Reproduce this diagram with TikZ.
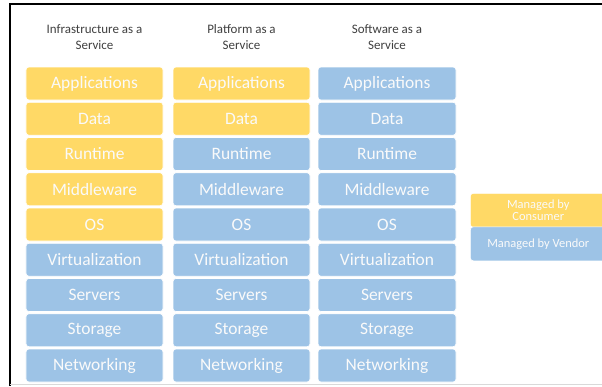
\documentclass[tikz,border=0pt]{standalone}
\usepackage{fontspec}
\setmainfont{Carlito}
\definecolor{consumer}{HTML}{FFD966}
\definecolor{vendor}{HTML}{9DC3E6}
\definecolor{titletext}{HTML}{404040}
\begin{document}
\begin{tikzpicture}[x=1bp,y=-1bp,
  layer/.style={rounded corners=3bp, minimum width=137bp, minimum height=33bp,
    inner sep=0pt, text=white!96!gray, font=\fontsize{17.5}{19}\selectfont, draw=white, line width=0.6bp},
  cons/.style={layer, fill=consumer},
  vend/.style={layer, fill=vendor},
  coltitle/.style={align=center, text=titletext, font=\fontsize{13}{16}\selectfont, inner sep=0pt},
  legend/.style={rounded corners=3bp, minimum width=136bp, minimum height=34bp, inner sep=0pt,
    text=white!96!gray, align=center, font=\fontsize{12.5}{12.5}\selectfont, draw=white, line width=0.6bp}]
\useasboundingbox (0,0) rectangle (602,386);
\fill[white] (0,0) rectangle (602,386);
% frame
\draw[line width=2bp, black] (10,386) -- (10,4) -- (602,4);
\draw[line width=0.8bp, black!15] (10,384.5) -- (602,384.5);
% titles
\node[coltitle] (t1) at (94.5,37) {Infrastructure as a\\Service};
\node[coltitle] (t2) at (241.5,37) {Platform as a\\Service};
\node[coltitle] (t3) at (387,37) {Software as a\\Service};
% rows
\foreach \name/\lbl [count=\i from 0] in {app/Applications,dat/Data,run/Runtime,mid/Middleware,os/OS,vir/Virtualization,ser/Servers,sto/Storage,net/Networking}{
  \pgfmathsetmacro{\yy}{83.5+35.25*\i}
  \pgfmathsetmacro{\stA}{\i<5 ? 1 : 0}
  \pgfmathsetmacro{\stB}{\i<2 ? 1 : 0}
  \ifdim\stA pt>0.5pt
    \node[cons] (i-\name) at (94.5,\yy) {\lbl};
  \else
    \node[vend] (i-\name) at (94.5,\yy) {\lbl};
  \fi
  \ifdim\stB pt>0.5pt
    \node[cons] (p-\name) at (241.5,\yy) {\lbl};
  \else
    \node[vend] (p-\name) at (241.5,\yy) {\lbl};
  \fi
  \node[vend, minimum width=138bp] (s-\name) at (387,\yy) {\lbl};
}
% legend
\begin{scope}
\clip (0,0) rectangle (602,386);
\node[legend, fill=consumer, anchor=north west] (lc) at (470,193) {Managed by\\Consumer};
\node[legend, fill=vendor, anchor=north west] (lv) at (470,226.5) {Managed by Vendor};
\end{scope}
\end{tikzpicture}
\end{document}
